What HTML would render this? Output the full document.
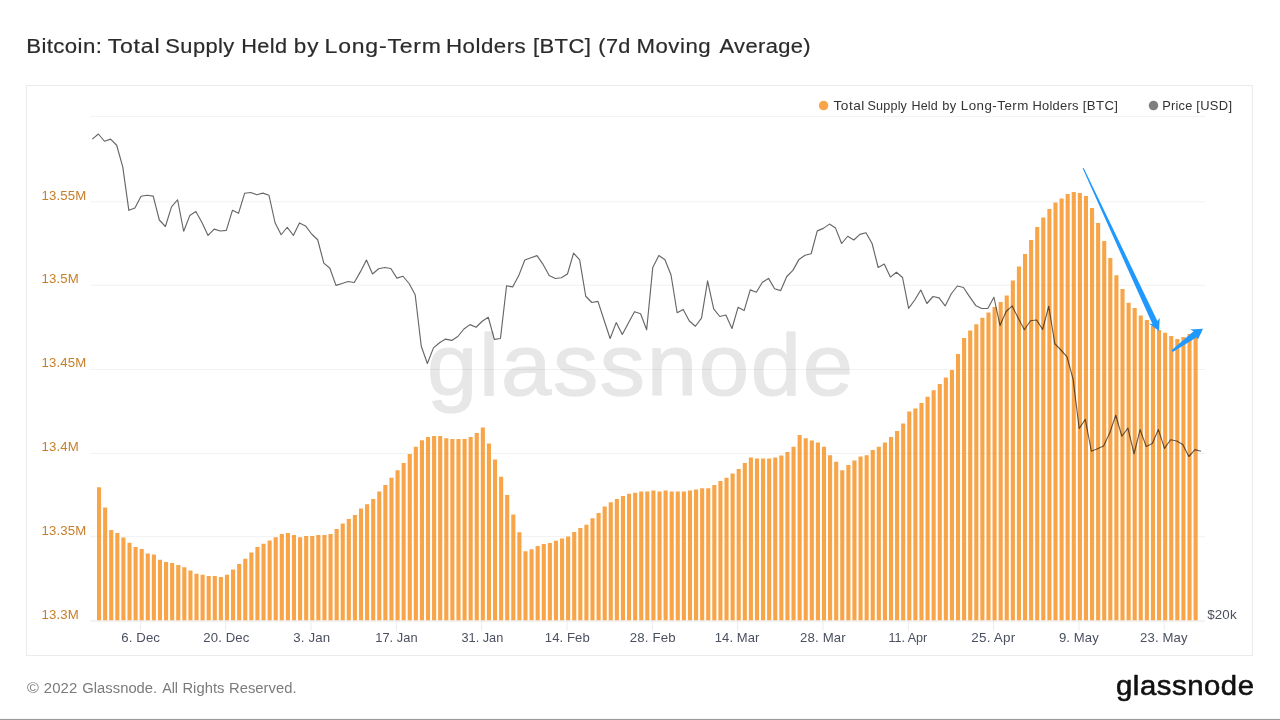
<!DOCTYPE html>
<html lang="en"><head><meta charset="utf-8"><title>Bitcoin: Total Supply Held by Long-Term Holders [BTC] (7d Moving Average)</title>
<style>
html,body{margin:0;padding:0;background:#fff;}
body{width:1280px;height:720px;position:relative;overflow:hidden;font-family:"Liberation Sans",sans-serif;}
#box{position:absolute;left:26.4px;top:85.3px;width:1227px;height:570.3px;border:1.5px solid #ebebeb;box-sizing:border-box;}
#bottomline{position:absolute;left:0;top:718px;width:1280px;height:2px;background:linear-gradient(#f6f6f6 0,#f6f6f6 50%,#9b9b9b 50%,#9b9b9b 100%);}
svg{position:absolute;left:0;top:0;}
svg text{white-space:pre;}

</style></head><body>
<div id="box"></div>
<svg width="1280" height="720" viewBox="0 0 1280 720" font-family="Liberation Sans, sans-serif">
<g stroke="#2b2b2b" stroke-width="0.2">
<text transform="translate(26.17 52.75) scale(1.0707 1)" font-size="20.8" fill="#2b2b2b" style="letter-spacing:0.365px">Bitcoin: </text>
<text transform="translate(107.68 52.75) scale(1.1122 1)" font-size="20.8" fill="#2b2b2b" style="letter-spacing:0.676px">Total </text>
<text transform="translate(165.34 52.75) scale(1.0535 1)" font-size="20.8" fill="#2b2b2b" style="letter-spacing:0.371px">Supply </text>
<text transform="translate(241.32 52.75) scale(1.0446 1)" font-size="20.8" fill="#2b2b2b" style="letter-spacing:0.326px">Held </text>
<text transform="translate(293.84 52.75) scale(1.0806 1)" font-size="20.8" fill="#2b2b2b" style="letter-spacing:0.932px">by </text>
<text transform="translate(324.61 52.75) scale(1.1055 1)" font-size="20.8" fill="#2b2b2b" style="letter-spacing:0.725px">Long-Term </text>
<text transform="translate(445.97 52.75) scale(1.0720 1)" font-size="20.8" fill="#2b2b2b" style="letter-spacing:0.465px">Holders </text>
<text transform="translate(532.93 52.75) scale(1.0592 1)" font-size="20.8" fill="#2b2b2b" style="letter-spacing:0.413px">[BTC] </text>
<text transform="translate(598.35 52.75) scale(1.0437 1)" font-size="20.8" fill="#2b2b2b" style="letter-spacing:0.330px">(7d </text>
<text transform="translate(636.48 52.75) scale(1.0676 1)" font-size="20.8" fill="#2b2b2b" style="letter-spacing:0.483px">Moving </text>
<text transform="translate(719.52 52.75) scale(1.0539 1)" font-size="20.8" fill="#2b2b2b" style="letter-spacing:0.353px">Average) </text>
</g>
<g stroke="#e7e7e7" stroke-width="1.2" stroke-linejoin="round">
<text transform="translate(427.09 395) scale(1.0321 1)" font-size="87.7" fill="#e7e7e7" style="letter-spacing:1.628px">glassnode</text>
</g>
<g stroke="#ececec" stroke-width="1" fill="none">
<path d="M140.40 621V631"/>
<path d="M225.72 621V631"/>
<path d="M311.04 621V631"/>
<path d="M396.36 621V631"/>
<path d="M481.68 621V631"/>
<path d="M567.00 621V631"/>
<path d="M652.32 621V631"/>
<path d="M737.64 621V631"/>
<path d="M822.96 621V631"/>
<path d="M908.28 621V631"/>
<path d="M993.60 621V631"/>
<path d="M1078.92 621V631"/>
<path d="M1164.24 621V631"/>
</g>
<g stroke="#000" stroke-opacity="0.045" stroke-width="1" fill="none">
<path d="M90.3 116.4H1205"/>
<path d="M90.3 201.8H1205"/>
<path d="M90.3 285.2H1205"/>
<path d="M90.3 369.4H1205"/>
<path d="M90.3 453.4H1205"/>
<path d="M90.3 536.7H1205"/>
</g>
<path d="M97.00 620.6V487.25h4.1V620.6zM103.09 620.6V507.50h4.1V620.6zM109.18 620.6V530.00h4.1V620.6zM115.28 620.6V533.10h4.1V620.6zM121.37 620.6V537.40h4.1V620.6zM127.46 620.6V542.80h4.1V620.6zM133.55 620.6V547.10h4.1V620.6zM139.64 620.6V549.10h4.1V620.6zM145.74 620.6V553.40h4.1V620.6zM151.83 620.6V554.50h4.1V620.6zM157.92 620.6V559.70h4.1V620.6zM164.01 620.6V562.00h4.1V620.6zM170.10 620.6V563.10h4.1V620.6zM176.20 620.6V565.10h4.1V620.6zM182.29 620.6V567.25h4.1V620.6zM188.38 620.6V570.50h4.1V620.6zM194.47 620.6V573.75h4.1V620.6zM200.56 620.6V574.75h4.1V620.6zM206.66 620.6V575.90h4.1V620.6zM212.75 620.6V575.90h4.1V620.6zM218.84 620.6V576.90h4.1V620.6zM224.93 620.6V574.75h4.1V620.6zM231.02 620.6V569.40h4.1V620.6zM237.12 620.6V564.10h4.1V620.6zM243.21 620.6V558.75h4.1V620.6zM249.30 620.6V552.50h4.1V620.6zM255.39 620.6V546.90h4.1V620.6zM261.48 620.6V543.75h4.1V620.6zM267.58 620.6V540.60h4.1V620.6zM273.67 620.6V537.25h4.1V620.6zM279.76 620.6V534.10h4.1V620.6zM285.85 620.6V533.10h4.1V620.6zM291.94 620.6V535.10h4.1V620.6zM298.04 620.6V537.25h4.1V620.6zM304.13 620.6V536.10h4.1V620.6zM310.22 620.6V536.10h4.1V620.6zM316.31 620.6V535.10h4.1V620.6zM322.40 620.6V535.10h4.1V620.6zM328.50 620.6V534.10h4.1V620.6zM334.59 620.6V528.90h4.1V620.6zM340.68 620.6V523.50h4.1V620.6zM346.77 620.6V519.10h4.1V620.6zM352.86 620.6V515.00h4.1V620.6zM358.96 620.6V508.50h4.1V620.6zM365.05 620.6V504.25h4.1V620.6zM371.14 620.6V499.00h4.1V620.6zM377.23 620.6V491.50h4.1V620.6zM383.32 620.6V485.00h4.1V620.6zM389.42 620.6V477.75h4.1V620.6zM395.51 620.6V470.20h4.1V620.6zM401.60 620.6V462.90h4.1V620.6zM407.69 620.6V454.10h4.1V620.6zM413.78 620.6V446.75h4.1V620.6zM419.88 620.6V440.25h4.1V620.6zM425.97 620.6V437.10h4.1V620.6zM432.06 620.6V436.00h4.1V620.6zM438.15 620.6V436.00h4.1V620.6zM444.24 620.6V438.25h4.1V620.6zM450.34 620.6V439.10h4.1V620.6zM456.43 620.6V439.10h4.1V620.6zM462.52 620.6V439.10h4.1V620.6zM468.61 620.6V437.10h4.1V620.6zM474.70 620.6V432.90h4.1V620.6zM480.80 620.6V427.50h4.1V620.6zM486.89 620.6V443.50h4.1V620.6zM492.98 620.6V459.50h4.1V620.6zM499.07 620.6V476.70h4.1V620.6zM505.16 620.6V494.90h4.1V620.6zM511.26 620.6V514.40h4.1V620.6zM517.35 620.6V532.25h4.1V620.6zM523.44 620.6V551.25h4.1V620.6zM529.53 620.6V549.25h4.1V620.6zM535.62 620.6V546.00h4.1V620.6zM541.72 620.6V544.00h4.1V620.6zM547.81 620.6V542.90h4.1V620.6zM553.90 620.6V540.75h4.1V620.6zM559.99 620.6V538.50h4.1V620.6zM566.08 620.6V536.40h4.1V620.6zM572.18 620.6V532.10h4.1V620.6zM578.27 620.6V527.90h4.1V620.6zM584.36 620.6V524.75h4.1V620.6zM590.45 620.6V518.25h4.1V620.6zM596.54 620.6V513.00h4.1V620.6zM602.64 620.6V506.60h4.1V620.6zM608.73 620.6V502.25h4.1V620.6zM614.82 620.6V499.10h4.1V620.6zM620.91 620.6V495.90h4.1V620.6zM627.00 620.6V493.75h4.1V620.6zM633.10 620.6V492.75h4.1V620.6zM639.19 620.6V491.60h4.1V620.6zM645.28 620.6V491.60h4.1V620.6zM651.37 620.6V490.40h4.1V620.6zM657.46 620.6V491.50h4.1V620.6zM663.56 620.6V490.40h4.1V620.6zM669.65 620.6V491.50h4.1V620.6zM675.74 620.6V491.50h4.1V620.6zM681.83 620.6V491.50h4.1V620.6zM687.92 620.6V490.40h4.1V620.6zM694.02 620.6V489.40h4.1V620.6zM700.11 620.6V488.25h4.1V620.6zM706.20 620.6V488.25h4.1V620.6zM712.29 620.6V485.10h4.1V620.6zM718.38 620.6V480.90h4.1V620.6zM724.48 620.6V477.75h4.1V620.6zM730.57 620.6V473.40h4.1V620.6zM736.66 620.6V469.10h4.1V620.6zM742.75 620.6V462.90h4.1V620.6zM748.84 620.6V457.40h4.1V620.6zM754.94 620.6V458.50h4.1V620.6zM761.03 620.6V458.50h4.1V620.6zM767.12 620.6V458.50h4.1V620.6zM773.21 620.6V457.40h4.1V620.6zM779.30 620.6V455.40h4.1V620.6zM785.40 620.6V452.10h4.1V620.6zM791.49 620.6V446.75h4.1V620.6zM797.58 620.6V435.00h4.1V620.6zM803.67 620.6V438.20h4.1V620.6zM809.76 620.6V440.50h4.1V620.6zM815.86 620.6V442.50h4.1V620.6zM821.95 620.6V446.75h4.1V620.6zM828.04 620.6V455.25h4.1V620.6zM834.13 620.6V461.75h4.1V620.6zM840.22 620.6V470.25h4.1V620.6zM846.32 620.6V465.00h4.1V620.6zM852.41 620.6V460.60h4.1V620.6zM858.50 620.6V456.40h4.1V620.6zM864.59 620.6V455.25h4.1V620.6zM870.68 620.6V450.00h4.1V620.6zM876.78 620.6V446.75h4.1V620.6zM882.87 620.6V442.50h4.1V620.6zM888.96 620.6V437.10h4.1V620.6zM895.05 620.6V430.90h4.1V620.6zM901.14 620.6V423.40h4.1V620.6zM907.24 620.6V411.60h4.1V620.6zM913.33 620.6V408.40h4.1V620.6zM919.42 620.6V403.10h4.1V620.6zM925.51 620.6V396.75h4.1V620.6zM931.60 620.6V390.25h4.1V620.6zM937.70 620.6V384.00h4.1V620.6zM943.79 620.6V377.50h4.1V620.6zM949.88 620.6V370.00h4.1V620.6zM955.97 620.6V354.10h4.1V620.6zM962.06 620.6V338.10h4.1V620.6zM968.16 620.6V330.60h4.1V620.6zM974.25 620.6V324.25h4.1V620.6zM980.34 620.6V317.80h4.1V620.6zM986.43 620.6V312.50h4.1V620.6zM992.52 620.6V307.10h4.1V620.6zM998.62 620.6V301.90h4.1V620.6zM1004.71 620.6V295.40h4.1V620.6zM1010.80 620.6V280.40h4.1V620.6zM1016.89 620.6V266.60h4.1V620.6zM1022.98 620.6V253.90h4.1V620.6zM1029.08 620.6V240.00h4.1V620.6zM1035.17 620.6V227.10h4.1V620.6zM1041.26 620.6V217.60h4.1V620.6zM1047.35 620.6V209.00h4.1V620.6zM1053.44 620.6V202.60h4.1V620.6zM1059.54 620.6V198.40h4.1V620.6zM1065.63 620.6V194.10h4.1V620.6zM1071.72 620.6V192.00h4.1V620.6zM1077.81 620.6V193.00h4.1V620.6zM1083.90 620.6V196.10h4.1V620.6zM1090.00 620.6V208.00h4.1V620.6zM1096.09 620.6V222.90h4.1V620.6zM1102.18 620.6V241.10h4.1V620.6zM1108.27 620.6V258.10h4.1V620.6zM1114.36 620.6V275.25h4.1V620.6zM1120.46 620.6V289.10h4.1V620.6zM1126.55 620.6V302.80h4.1V620.6zM1132.64 620.6V308.10h4.1V620.6zM1138.73 620.6V315.60h4.1V620.6zM1144.82 620.6V320.00h4.1V620.6zM1150.92 620.6V326.00h4.1V620.6zM1157.01 620.6V330.00h4.1V620.6zM1163.10 620.6V332.80h4.1V620.6zM1169.19 620.6V336.00h4.1V620.6zM1175.28 620.6V339.10h4.1V620.6zM1181.38 620.6V337.00h4.1V620.6zM1187.47 620.6V334.00h4.1V620.6zM1193.56 620.6V332.00h4.1V620.6z" fill="#f7a548"/>
<g stroke="#000" stroke-opacity="0.02" stroke-width="1" fill="none">
<path d="M90.3 116.4H1205"/>
<path d="M90.3 201.8H1205"/>
<path d="M90.3 285.2H1205"/>
<path d="M90.3 369.4H1205"/>
<path d="M90.3 453.4H1205"/>
<path d="M90.3 536.7H1205"/>
</g>
<path d="M90.3 621H1205" stroke="#e6e6e6" stroke-width="1" fill="none"/>
<polyline points="92.30,139.10 98.39,134.00 104.48,141.25 110.58,139.10 116.67,145.25 122.76,166.90 128.85,210.30 134.94,208.00 141.04,196.25 147.13,195.25 153.22,196.10 159.31,220.00 165.40,226.50 171.50,206.90 177.59,199.75 183.68,231.25 189.77,215.60 195.86,211.50 201.96,222.50 208.05,235.40 214.14,229.10 220.23,231.00 226.32,230.40 232.42,210.30 238.51,213.30 244.60,193.30 250.69,192.50 256.78,194.75 262.88,193.10 268.97,195.25 275.06,222.75 281.15,234.75 287.24,227.25 293.34,235.40 299.43,222.90 305.52,225.90 311.61,234.00 317.70,239.75 323.80,263.10 329.89,268.30 335.98,285.40 342.07,283.50 348.16,281.50 354.26,282.50 360.35,271.90 366.44,260.00 372.53,274.00 378.62,268.75 384.72,267.50 390.81,268.50 396.90,278.10 402.99,276.25 409.08,283.50 415.18,294.75 421.27,346.25 427.36,363.50 433.45,347.90 439.54,342.75 445.64,339.10 451.73,340.40 457.82,336.50 463.91,329.00 470.00,324.60 476.10,327.25 482.19,321.25 488.28,317.25 494.37,339.40 500.46,338.50 506.56,285.80 512.65,286.90 518.74,275.60 524.83,260.00 530.92,257.75 537.02,255.60 543.11,264.40 549.20,275.60 555.29,278.50 561.38,277.75 567.48,274.00 573.57,253.10 579.66,259.90 585.75,296.25 591.84,302.50 597.94,301.40 604.03,320.00 610.12,338.50 616.21,322.60 622.30,334.50 628.40,323.10 634.49,311.70 640.58,313.75 646.67,329.80 652.76,267.40 658.86,255.50 664.95,259.75 671.04,275.00 677.13,312.75 683.22,309.40 689.32,321.00 695.41,326.25 701.50,318.10 707.59,280.80 713.68,308.90 719.78,316.50 725.87,315.00 731.96,328.50 738.05,307.30 744.14,310.60 750.24,289.90 756.33,292.20 762.42,282.30 768.51,278.40 774.60,288.75 780.70,290.60 786.79,276.50 792.88,270.40 798.97,259.40 805.06,255.25 811.16,253.75 817.25,230.90 823.34,228.40 829.43,224.10 835.52,228.10 841.62,243.50 847.71,236.25 853.80,240.00 859.89,234.40 865.98,232.75 872.08,243.50 878.17,267.50 884.26,264.10 890.35,277.10 896.44,272.25 902.54,277.50 908.63,308.40 914.72,300.00 920.81,290.00 926.90,303.50 933.00,296.50 939.09,297.90 945.18,305.90 951.27,293.75 957.36,286.00 963.46,287.50 969.55,296.60 975.64,305.40 981.73,308.50 987.82,308.50 993.92,297.25 1000.01,325.40 1006.10,311.50 1012.19,305.90 1018.28,318.30 1024.38,329.70 1030.47,320.70 1036.56,320.00 1042.65,329.40 1048.74,306.25 1054.84,343.75 1060.93,350.00 1067.02,356.90 1073.11,379.40 1079.20,428.50 1085.30,419.40 1091.39,451.25 1097.48,448.75 1103.57,446.00 1109.66,433.10 1115.76,415.25 1121.85,436.25 1127.94,428.10 1134.03,453.75 1140.12,429.60 1146.22,446.50 1152.31,443.50 1158.40,429.60 1164.49,448.40 1170.58,439.75 1176.68,441.00 1182.77,444.40 1188.86,456.50 1194.95,449.60 1201.04,451.25" fill="none" stroke="#000" stroke-opacity="0.6" stroke-width="1.15" stroke-linejoin="round"/>
<g fill="#1f99fe">
<path d="M1082.6 168.3L1083.7 167.9L1157.4 320.9L1159.7 318.1L1159.1 331.1L1148.75 323.4L1152.4 324.1Z"/>
<path d="M1171.5 350.2L1193.6 331.3L1190 329.4L1203.05 328.8L1197.8 339.7L1196.7 337.2L1172.8 351.9Z"/>
</g>
<text transform="translate(41.49 199.6) scale(1.0335 1)" font-size="12.8" fill="#c77f2a" style="letter-spacing:0.149px">13.55M</text>
<text transform="translate(41.49 283.0) scale(1.0315 1)" font-size="12.8" fill="#c77f2a" style="letter-spacing:0.145px">13.5M</text>
<text transform="translate(41.49 367.2) scale(1.0335 1)" font-size="12.8" fill="#c77f2a" style="letter-spacing:0.149px">13.45M</text>
<text transform="translate(41.49 451.2) scale(1.0315 1)" font-size="12.8" fill="#c77f2a" style="letter-spacing:0.145px">13.4M</text>
<text transform="translate(41.49 534.5) scale(1.0335 1)" font-size="12.8" fill="#c77f2a" style="letter-spacing:0.149px">13.35M</text>
<text transform="translate(41.49 618.8) scale(1.0315 1)" font-size="12.8" fill="#c77f2a" style="letter-spacing:0.145px">13.3M</text>
<text transform="translate(1207.14 618.6) scale(1.0340 1)" font-size="12.9" fill="#4b5060" style="letter-spacing:0.173px">$20k</text>
<text transform="translate(121.23 641.5) scale(1.0304 1)" font-size="12.8" fill="#4b5060" style="letter-spacing:0.120px">6. Dec </text>
<text transform="translate(203.34 641.5) scale(1.0280 1)" font-size="12.8" fill="#4b5060" style="letter-spacing:0.110px">20. Dec </text>
<text transform="translate(293.23 641.5) scale(1.0374 1)" font-size="12.8" fill="#4b5060" style="letter-spacing:0.138px">3. Jan </text>
<text transform="translate(375.27 641.5) scale(1.0052 1)" font-size="12.8" fill="#4b5060" style="letter-spacing:0.019px">17. Jan </text>
<text transform="translate(461.50 641.5) scale(0.9976 1)" font-size="12.8" fill="#4b5060" style="letter-spacing:-0.009px">31. Jan </text>
<text transform="translate(544.75 641.5) scale(1.0246 1)" font-size="12.8" fill="#4b5060" style="letter-spacing:0.094px">14. Feb </text>
<text transform="translate(629.83 641.5) scale(1.0344 1)" font-size="12.8" fill="#4b5060" style="letter-spacing:0.133px">28. Feb </text>
<text transform="translate(714.75 641.5) scale(1.0197 1)" font-size="12.8" fill="#4b5060" style="letter-spacing:0.075px">14. Mar </text>
<text transform="translate(800.08 641.5) scale(1.0332 1)" font-size="12.8" fill="#4b5060" style="letter-spacing:0.129px">28. Mar </text>
<text transform="translate(888.54 641.5) scale(0.9844 1)" font-size="12.8" fill="#4b5060" style="letter-spacing:-0.053px">11. Apr </text>
<text transform="translate(971.32 641.5) scale(1.0524 1)" font-size="12.8" fill="#4b5060" style="letter-spacing:0.192px">25. Apr </text>
<text transform="translate(1058.88 641.5) scale(1.0252 1)" font-size="12.8" fill="#4b5060" style="letter-spacing:0.104px">9. May </text>
<text transform="translate(1140.09 641.5) scale(1.0273 1)" font-size="12.8" fill="#4b5060" style="letter-spacing:0.111px">23. May </text>
<circle cx="823.6" cy="105.6" r="4.75" fill="#f7a548"/>
<text transform="translate(833.44 110.0) scale(1.1303 1)" font-size="12.1" fill="#333" style="letter-spacing:0.462px">Total </text>
<text transform="translate(867.52 110.0) scale(1.0421 1)" font-size="12.1" fill="#333" style="letter-spacing:0.169px">Supply </text>
<text transform="translate(911.47 110.0) scale(1.0359 1)" font-size="12.1" fill="#333" style="letter-spacing:0.152px">Held </text>
<text transform="translate(942.26 110.0) scale(1.0632 1)" font-size="12.1" fill="#333" style="letter-spacing:0.421px">by </text>
<text transform="translate(960.80 110.0) scale(1.1047 1)" font-size="12.1" fill="#333" style="letter-spacing:0.418px">Long-Term </text>
<text transform="translate(1032.44 110.0) scale(1.0674 1)" font-size="12.1" fill="#333" style="letter-spacing:0.253px">Holders </text>
<text transform="translate(1082.81 110.0) scale(1.0862 1)" font-size="12.1" fill="#333" style="letter-spacing:0.355px">[BTC] </text>
<circle cx="1153.5" cy="105.6" r="4.75" fill="#7e7e7e"/>
<text transform="translate(1162.35 110.0) scale(1.0571 1)" font-size="12.1" fill="#333" style="letter-spacing:0.207px">Price </text>
<text transform="translate(1196.28 110.0) scale(1.0689 1)" font-size="12.1" fill="#333" style="letter-spacing:0.294px">[USD] </text>
<text transform="translate(27.00 693.0) scale(1.0941 1)" font-size="14.7" fill="#7b7b7b">© </text>
<text transform="translate(43.75 693.0) scale(1.0180 1)" font-size="14.7" fill="#7b7b7b" style="letter-spacing:0.102px">2022 </text>
<text transform="translate(82.25 693.0) scale(1.0055 1)" font-size="14.7" fill="#7b7b7b" style="letter-spacing:0.024px">Glassnode. </text>
<text transform="translate(162.25 693.0) scale(0.9745 1)" font-size="14.7" fill="#7b7b7b" style="letter-spacing:-0.103px">All </text>
<text transform="translate(182.39 693.0) scale(1.0060 1)" font-size="14.7" fill="#7b7b7b" style="letter-spacing:0.026px">Rights </text>
<text transform="translate(228.99 693.0) scale(1.0065 1)" font-size="14.7" fill="#7b7b7b" style="letter-spacing:0.028px">Reserved. </text>
<g stroke="#111" stroke-width="0.6" stroke-linejoin="round">
<text transform="translate(1115.97 694.75) scale(1.0332 1)" font-size="28.35" fill="#111" style="letter-spacing:0.545px">glassnode</text>
</g>
</svg>
<div id="bottomline"></div>
</body></html>
